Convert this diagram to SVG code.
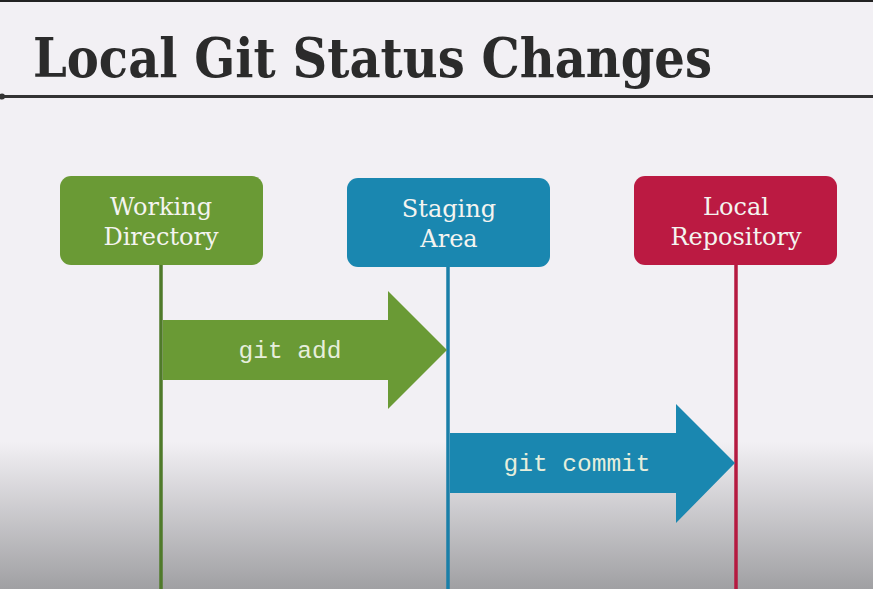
<svg xmlns="http://www.w3.org/2000/svg" width="873" height="589" viewBox="0 0 873 589">
<defs>
<linearGradient id="bg" x1="0" y1="0" x2="0" y2="1">
<stop offset="0" stop-color="#f2f0f4"/>
<stop offset="0.75" stop-color="#f2f0f4"/>
<stop offset="1" stop-color="#a0a0a3"/>
</linearGradient>
<style>
.box text{font-family:"DejaVu Serif","Liberation Serif",serif;font-size:24px;fill:#f4f4f0;text-anchor:middle}
.lbl{font-family:"Liberation Mono","Courier New",monospace;font-size:24.5px;fill:#e6eedc;text-anchor:middle}
</style>
</defs>
<rect x="0" y="0" width="873" height="589" fill="url(#bg)"/>
<rect x="0" y="0" width="873" height="2" fill="#222"/>
<text x="33" y="77" font-family="DejaVu Serif Condensed,DejaVu Serif,serif" font-weight="bold" font-size="54" fill="#2b2b2b" textLength="679" lengthAdjust="spacingAndGlyphs">Local Git Status Changes</text>
<rect x="0" y="95" width="873" height="3" fill="#333"/>
<circle cx="2" cy="96.5" r="3" fill="#333"/>
<g id="connectors">
<line x1="161" y1="265" x2="161" y2="589" stroke="#4f7a2a" stroke-width="3.5"/>
<line x1="448" y1="267" x2="448" y2="589" stroke="#1a7fa8" stroke-width="3.5"/>
<line x1="736" y1="265" x2="736" y2="589" stroke="#b51a40" stroke-width="3.5"/>
<g id="git-add">
<polygon points="163,320 388,320 388,291 447,350 388,409 388,380 163,380" fill="#6a9a35"/>
<text class="lbl" x="290" y="358">git add</text>
</g>
<g id="git-commit">
<polygon points="450,433 676,433 676,404 735,463 676,523 676,493 450,493" fill="#1a87b0"/>
<text class="lbl" x="577" y="471">git commit</text>
</g>
</g>
<g id="working" class="box">
<rect x="60" y="176" width="203" height="89" rx="11" fill="#6a9a35"/>
<text x="161" y="215">Working</text>
<text x="161" y="245">Directory</text>
</g>
<g id="staging" class="box">
<rect x="347" y="178" width="203" height="89" rx="11" fill="#1a87b0"/>
<text x="449" y="217">Staging</text>
<text x="449" y="247">Area</text>
</g>
<g id="repo" class="box">
<rect x="634" y="176" width="203" height="89" rx="11" fill="#bb1a42"/>
<text x="736" y="215">Local</text>
<text x="736" y="245">Repository</text>
</g>
</svg>
